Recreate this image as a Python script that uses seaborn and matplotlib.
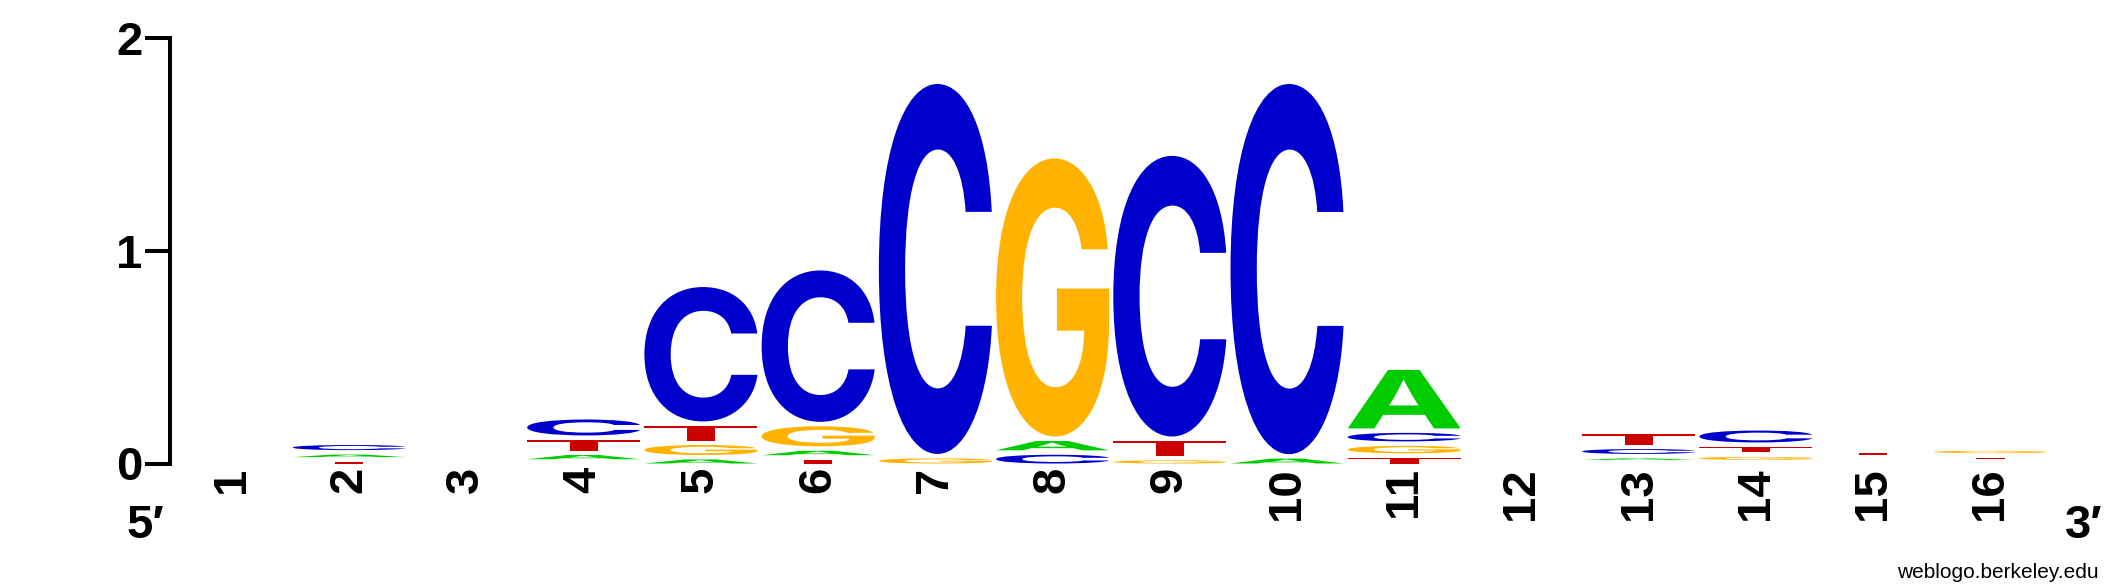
import matplotlib
matplotlib.use("Agg")
import matplotlib.pyplot as plt
from matplotlib.textpath import TextPath
from matplotlib.patches import PathPatch
from matplotlib.font_manager import FontProperties
from matplotlib.transforms import Affine2D
import seaborn as sns

# sequence logo values (bits per letter), positions 1..16
positions = list(range(1, 17))
bits_A = [0, 0.033, 0, 0.041, 0.040, 0.042, 0, 0.065, 0, 0.044, 0.296, 0, 0.028, 0.017, 0.013, 0.011]
bits_C = [0, 0.045, 0, 0.096, 0.653, 0.733, 1.761, 0.062, 1.341, 1.762, 0.061, 0, 0.044, 0.077, 0.013, 0.010]
bits_G = [0, 0, 0, 0.020, 0.068, 0.115, 0.045, 1.329, 0.036, 0, 0.056, 0, 0.017, 0.035, 0.014, 0.032]
bits_T = [0, 0.030, 0, 0.071, 0.090, 0.039, 0, 0, 0.091, 0, 0.048, 0, 0.069, 0.047, 0.032, 0.028]
letters = ["A", "C", "G", "T"]
colors = {"A": "#00CC00", "C": "#0000CC", "G": "#FFB300", "T": "#CC0000"}
yticks = [0, 1, 2]

sns.set_style("white", {"text.color": "black", "axes.labelcolor": "black",
                        "xtick.color": "black", "ytick.color": "black",
                        "axes.edgecolor": "black"})
plt.rcParams["font.family"] = ["Liberation Sans", "DejaVu Sans"]

letter_font = FontProperties(family="Inter", weight="bold")
GAP = 0.021      # weblogo leaves a small space above each glyph
WIDTH = 0.964


def draw_letter(ax, char, x, y, h, color):
    """Scale a glyph so it fills the box (x-WIDTH/2, y) .. (x+WIDTH/2, y+h)."""
    tp = TextPath((0, 0), char, size=1, prop=letter_font)
    bb = tp.get_extents()
    tr = (Affine2D().translate(-bb.x0, -bb.y0)
          .scale(WIDTH / bb.width, h / bb.height)
          .translate(x - WIDTH / 2, y))
    ax.add_patch(PathPatch(tr.transform_path(tp), facecolor=color, lw=0))


fig = plt.figure(figsize=(21.25, 5.88), dpi=100)
W, H = 2125, 588
ax = fig.add_axes([170 / W, (H - 463.5) / H, (2049 - 170) / W, (463.5 - 38.3) / H])
ax.set_xlim(0.471, 16.5)
ax.set_ylim(0, 2)

table = {"A": bits_A, "C": bits_C, "G": bits_G, "T": bits_T}
for i, pos in enumerate(positions):
    stack = sorted([(table[l][i], l) for l in letters if table[l][i] > 0], key=lambda s: s[0])
    base = 0.0
    for h, l in stack:
        if h - GAP > 0.002:
            draw_letter(ax, l, pos, base, h - GAP, colors[l])
        base += h

# axes styling
for side in ["top", "right", "bottom"]:
    ax.spines[side].set_visible(False)
ax.spines["left"].set_linewidth(2.9)
ax.spines["left"].set_color("black")
ax.spines["left"].set_capstyle("projecting")
ax.set_yticks(yticks)
ax.set_yticklabels([str(t) for t in yticks], fontsize=34, fontweight="bold", color="black")
ax.tick_params(axis="y", direction="out", length=18, width=2.9, pad=2, left=True, colors="black")
ax.set_xticks(positions)
ax.set_xticklabels([str(p) for p in positions], fontsize=34, fontweight="bold", rotation=90, color="black")
ax.tick_params(axis="x", length=0, pad=2.5)
ax.grid(False)

fig.text(126 / W, (H - 538) / H, "5\u2032", fontsize=34, fontweight="bold", ha="left", va="baseline", color="black")
fig.text(2065 / W, (H - 538) / H, "3\u2032", fontsize=34, fontweight="bold", ha="left", va="baseline", color="black")
fig.text(2099 / W, (H - 578) / H, "weblogo.berkeley.edu", fontsize=15, ha="right", va="baseline", color="black")

fig.savefig("out.png", dpi=100, facecolor="white")
